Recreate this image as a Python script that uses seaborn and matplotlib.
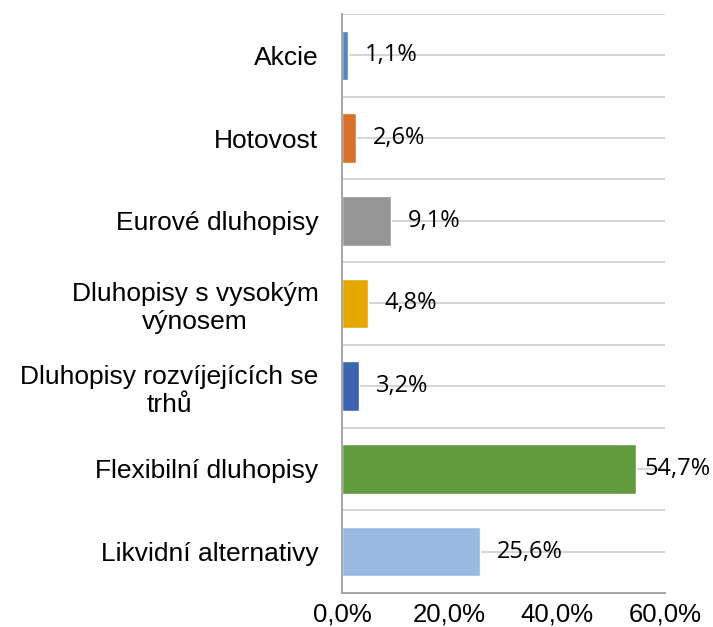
import numpy as np
import matplotlib
matplotlib.use("Agg")
import matplotlib.pyplot as plt
import seaborn as sns

# data
categories = [
    "Akcie",
    "Hotovost",
    "Eurové dluhopisy",
    "Dluhopisy s vysokým\nvýnosem",
    "Dluhopisy rozvíjejících se\ntrhů",
    "Flexibilní dluhopisy",
    "Likvidní alternativy",
]
shares = [1.1, 2.6, 9.1, 4.8, 3.2, 54.7, 25.6]
bar_colors = ["#4F87BE", "#D9702B", "#969696", "#E5A800", "#3D64AE", "#629B3D", "#98B9E0"]
x_ticks = [0, 20, 40, 60]

sns.set_style("white")
plt.rcParams["font.family"] = ["Liberation Sans", "DejaVu Sans"]
plt.rcParams["text.color"] = "black"
plt.rcParams["xtick.color"] = "black"
plt.rcParams["ytick.color"] = "black"

fig = plt.figure(figsize=(7.13, 6.27), dpi=100)
ax = fig.add_axes([0.4797, 0.0542, 0.4530, 0.9235])

sns.barplot(x=shares, y=categories, hue=categories, palette=bar_colors,
            orient="h", width=0.6, legend=False, saturation=1, ax=ax)

# value labels, czech decimal comma (the biggest one sits closer to its bar)
for cont, v in zip(ax.containers, shares):
    pad = 6 if v > 50 else 12
    ax.bar_label(cont, labels=[f"{v:.1f}".replace(".", ",") + "%"], padding=pad,
                 fontsize=17, family="Open Sans", color="black")

ax.set_xlim(0, 60)
ax.set_xticks(x_ticks)
ax.set_xticklabels([f"{t:.1f}".replace(".", ",") + "%" for t in x_ticks], fontsize=18.5)
ax.set_ylim(6.5, -0.5)
ax.set_yticks(range(len(categories)))
ax.set_yticks(np.arange(-0.5, len(categories), 1), minor=True)
ax.set_yticklabels(categories, fontsize=19, multialignment="center")

ax.set_axisbelow(True)
ax.grid(axis="y", which="both", color="#d4d4d4", lw=1.4)
ax.grid(axis="x", visible=False)
ax.tick_params(axis="y", which="both", length=0, pad=17)
ax.tick_params(axis="x", length=5, width=1.2, color="#a6a6a6", pad=2)

for s in ["top", "right"]:
    ax.spines[s].set_visible(False)
for s in ["left", "bottom"]:
    ax.spines[s].set_color("#a6a6a6")
    ax.spines[s].set_linewidth(1.4)

ax.set_xlabel("")
ax.set_ylabel("")

fig.savefig("out.png", dpi=100)
